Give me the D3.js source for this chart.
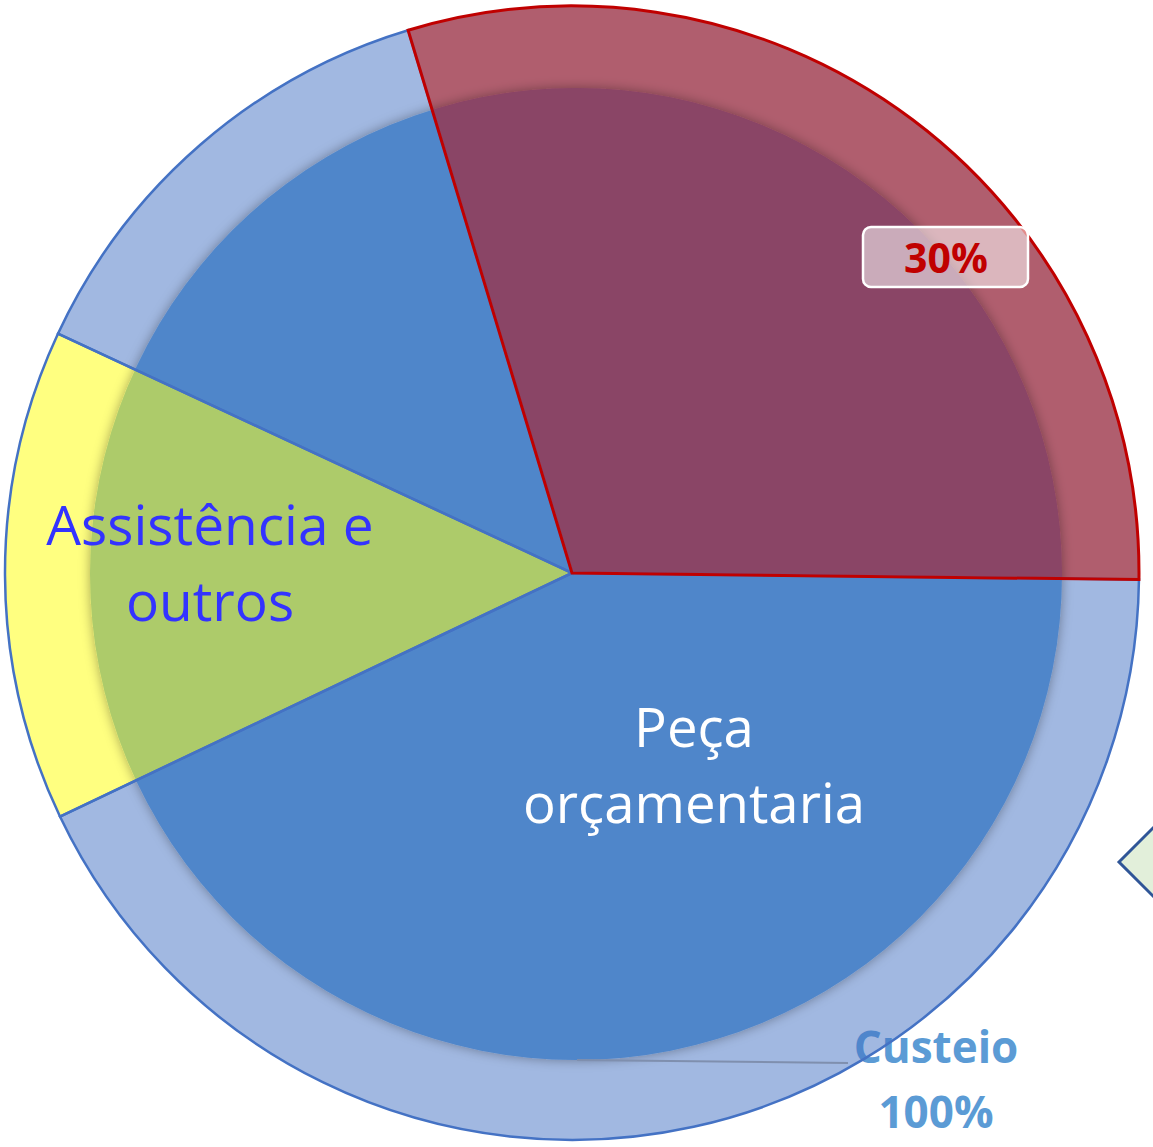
<!DOCTYPE html>
<html>
<head>
<meta charset="utf-8">
<script src="https://cdn.jsdelivr.net/npm/d3@7"></script>
<style>
html,body{margin:0;padding:0;background:#fff;}
svg{display:block;}
</style>
</head>
<body>
<svg id="chart" width="1153" height="1147"></svg>
<script>
// ---- data ----
const categories = ["Custeio", "Peça orçamentaria", "Assistência e outros", "Outros"];
const values = [29.85, 42.75, 14, 13.4];
const outerColors = ["#b05e6e", "#4472c4", "#ffff80", "#4472c4"];
const outerOpacity = [1, 0.5, 1, 0.5];
const innerColors = ["#8a4466", "#4f86ca", "#adcb6b", "#4f86ca"];
const strokeColors = ["#c00000", "#4472c4", "#4472c4", "#4472c4"];
const totalLabel = ["Custeio", "100%"];
const pctLabel = "30%";

const svg = d3.select("#chart");
const cx = 572, cy = 573, R = 567, r = 486;

const defs = svg.append("defs");
const f = defs.append("filter").attr("id", "sh").attr("x", "-20%").attr("y", "-20%").attr("width", "140%").attr("height", "140%");
f.append("feDropShadow").attr("dx", 0).attr("dy", 0).attr("stdDeviation", 6)
  .attr("flood-color", "#000").attr("flood-opacity", 0.35);
defs.append("clipPath").attr("id", "innerClip")
  .append("circle").attr("cx", 4).attr("cy", 1).attr("r", r);

// diamond shape on the right edge
svg.append("polygon")
  .attr("points", [[1119,862],[1153,828],[1187,862],[1153,896]].map(p=>p.join(",")).join(" "))
  .attr("fill", "#e2efda").attr("stroke", "#2f5597").attr("stroke-width", 3);

// total label (drawn under the translucent ring)
const tl = svg.append("text").attr("text-anchor", "middle")
  .attr("font-family", "'Open Sans', sans-serif").attr("font-weight", 700)
  .attr("font-size", 44).attr("fill", "#5b9bd5");
tl.append("tspan").attr("x", 936).attr("y", 1063).text(totalLabel[0]);
tl.append("tspan").attr("x", 936).attr("y", 1128).text(totalLabel[1]);

const startA = -16.8 * Math.PI / 180;
const pie = d3.pie().sort(null).startAngle(startA).endAngle(startA + 2 * Math.PI);
const arcs = pie(values);
const outerArc = d3.arc().innerRadius(0).outerRadius(R);

const g = svg.append("g").attr("transform", `translate(${cx},${cy})`);

// outer ring fills
g.selectAll("path.outer").data(arcs).join("path")
  .attr("class", "outer")
  .attr("d", outerArc)
  .attr("fill", (d, i) => outerColors[i])
  .attr("fill-opacity", (d, i) => outerOpacity[i]);

// inner disc with shadow (slightly offset circle, same slice angles)
const ig = g.append("g").attr("filter", "url(#sh)")
  .append("g").attr("clip-path", "url(#innerClip)");
ig.selectAll("path").data(arcs).join("path")
  .attr("d", outerArc)
  .attr("fill", (d, i) => innerColors[i])
  .attr("stroke", (d, i) => innerColors[i]).attr("stroke-width", 0.8);

// leader line
svg.append("line").attr("x1", 577).attr("y1", 1060).attr("x2", 848).attr("y2", 1063)
  .attr("stroke", "#7f8fae").attr("stroke-width", 2);

// outlines (blue first, red on top)
const order = [1, 2, 3, 0];
order.forEach(i => {
  g.append("path").attr("d", outerArc(arcs[i]))
    .attr("fill", "none").attr("stroke", strokeColors[i])
    .attr("stroke-width", i === 0 ? 3 : 2.5).attr("stroke-linejoin", "miter");
});

// category labels
function multi(lines, x, ys, size, color, weight) {
  const t = svg.append("text").attr("text-anchor", "middle")
    .attr("font-family", "'Open Sans', sans-serif").attr("font-size", size)
    .attr("font-weight", weight || 400).attr("fill", color);
  lines.forEach((l, k) => t.append("tspan").attr("x", x).attr("y", ys[k]).text(l));
}
multi(["Assistência e", "outros"], 210, [545, 621], 55, "#3333ff");
multi(["Peça", "orçamentaria"], 694, [747, 823], 54.5, "#ffffff");

// 30% data label box
svg.append("rect").attr("x", 863).attr("y", 227).attr("width", 165).attr("height", 60).attr("rx", 8)
  .attr("fill", "#ffffff").attr("fill-opacity", 0.55).attr("stroke", "#ffffff").attr("stroke-width", 2.5);
svg.append("text").attr("x", 946).attr("y", 273).attr("text-anchor", "middle")
  .attr("font-family", "'Open Sans', sans-serif").attr("font-weight", 700)
  .attr("font-size", 41).attr("fill", "#c00000").text(pctLabel);
</script>
</body>
</html>
